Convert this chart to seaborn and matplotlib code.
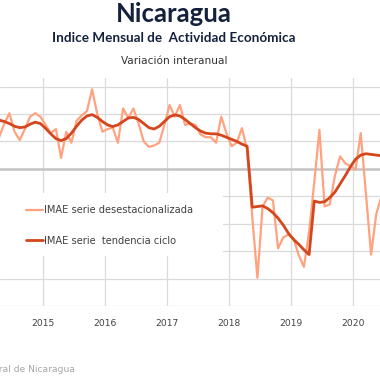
import numpy as np
import pandas as pd
import matplotlib
matplotlib.use("Agg")
import matplotlib.pyplot as plt
import seaborn as sns
from matplotlib.lines import Line2D
from matplotlib.patches import Rectangle

# ---- data (monthly, Apr 2014 - Jun 2020), % year-on-year ----
start_year, start_month = 2014, 4
raw_values = [
    2.3, 3.3, 4.05, 2.7, 2.1, 2.9, 3.8, 4.05, 3.8,                    # 2014 Apr-Dec
    3.2, 2.6, 2.9, 0.8, 2.7, 1.9, 3.5, 3.9, 4.2, 5.8, 4.0, 2.7,       # 2015
    2.9, 3.0, 1.9, 4.4, 3.7, 4.4, 3.3, 2.0, 1.6, 1.7, 1.9, 3.2,       # 2016
    4.65, 3.8, 4.65, 3.2, 3.3, 3.2, 2.5, 2.3, 2.3, 1.9, 3.8, 2.6,     # 2017
    1.65, 1.9, 2.96, 1.4, -3.5, -7.95, -2.74, -2.1, -2.3, -5.8, -5.0, -4.8,  # 2018
    -5.1, -6.3, -7.15, -4.6, -1.0, 2.84, -2.74, -2.6, -0.5, 0.9, 0.4, 0.2,   # 2019
    -0.05, 2.6, -1.8, -6.25, -3.3, -2.0,                               # 2020 Jan-Jun
]
trend_values = [
    3.55, 3.45, 3.3, 3.1, 3.0, 3.05, 3.25, 3.4, 3.3,                   # 2014 Apr-Dec
    2.95, 2.55, 2.2, 2.06, 2.2, 2.6, 3.1, 3.55, 3.85, 3.95, 3.75, 3.45, # 2015
    3.2, 3.08, 3.2, 3.45, 3.7, 3.75, 3.6, 3.3, 3.0, 2.9, 3.1, 3.45,     # 2016
    3.8, 3.93, 3.85, 3.6, 3.3, 3.0, 2.75, 2.6, 2.55, 2.55, 2.45, 2.3,   # 2017
    2.15, 2.0, 1.8, 1.65, -2.8, -2.75, -2.7, -2.9, -3.2, -3.6, -4.1, -4.7,  # 2018
    -5.15, -5.5, -5.9, -6.25, -2.35, -2.45, -2.4, -2.1, -1.7, -1.1, -0.5, 0.15,  # 2019
    0.7, 1.0, 1.1, 1.05, 1.0, 0.95,                                     # 2020 Jan-Jun
]
year_ticks = [2015, 2016, 2017, 2018, 2019, 2020]
series_names = ["IMAE serie desestacionalizada", "IMAE serie  tendencia ciclo"]

n = len(raw_values)
months = np.arange(n) + (start_month - 1)
t = start_year + (months + 0.5) / 12.0

df = pd.concat([
    pd.DataFrame({"t": t, "v": raw_values, "serie": series_names[0]}),
    pd.DataFrame({"t": t, "v": trend_values, "serie": series_names[1]}),
])

sns.set_theme(style="white")
plt.rcParams["font.family"] = ["DejaVu Sans"]

W = H = 380.0
fig = plt.figure(figsize=(3.8, 3.8), dpi=100)
ax = fig.add_axes([0.0, 74/H, 1.0, (306-78)/H])

palette = {series_names[0]: "#FFA27F", series_names[1]: "#D4461C"}
sizes = {series_names[0]: 1.6, series_names[1]: 2.0}
sns.lineplot(data=df, x="t", y="v", hue="serie", size="serie", sizes=sizes,
             palette=palette, ax=ax, legend=False, zorder=3)

ax.set_xlim(2015 - 43/62, 2020 + 27/62)
ax.set_ylim(-9.97, 6.62)
ax.set_yticks(np.arange(-10, 7, 2))
ax.set_yticklabels([])
ax.tick_params(axis="y", length=0)
ax.set_xticks(year_ticks)
ax.set_xticklabels([str(y) for y in year_ticks], fontsize=6.6, color="#404040")
ax.tick_params(axis="x", length=0, pad=9)
ax.grid(True, color="#DADADA", linewidth=0.9, zorder=0)
ax.axhline(0, color="#C4C4C4", linewidth=1.8, zorder=1)
for s in ax.spines.values():
    s.set_visible(False)
ax.set_xlabel("")
ax.set_ylabel("")

# white legend area (covers grid lines like the reference's legend box)
ax.add_patch(Rectangle((0, 1 - 256/H), 223/W, 63/H, transform=fig.transFigure,
                       facecolor="white", edgecolor="none", zorder=2, clip_on=False))

handles = [Line2D([0], [0], color=palette[k], lw=sizes[k]) for k in series_names]
leg = ax.legend(handles, series_names, loc="upper left",
                bbox_to_anchor=(26/W, 1 - 205.5/H), bbox_transform=fig.transFigure,
                frameon=False, fontsize=7.1, handlelength=1.75, handletextpad=0.05,
                labelspacing=2.05, borderpad=0.0, borderaxespad=0)
for txt in leg.get_texts():
    txt.set_color("#404040")
leg.set_zorder(5)

fig.text(174/W, 1 - 14/H, "Nicaragua", ha="center", va="center",
         fontsize=18.5, fontweight="bold", color="#14213D", family=["Lato"])
fig.text(174/W, 1 - 38/H, "Indice Mensual de  Actividad Económica", ha="center",
         va="center", fontsize=9.7, fontweight="bold", color="#14213D", family=["Lato"])
fig.text(174/W, 1 - 61/H, "Variación interanual", ha="center", va="center",
         fontsize=7.6, color="#333333")
fig.text(75/W, 1 - 369/H, "Banco Central de Nicaragua", ha="right",
         va="center", fontsize=6.6, color="#A6A6A6")

fig.savefig("out.png", dpi=100)
